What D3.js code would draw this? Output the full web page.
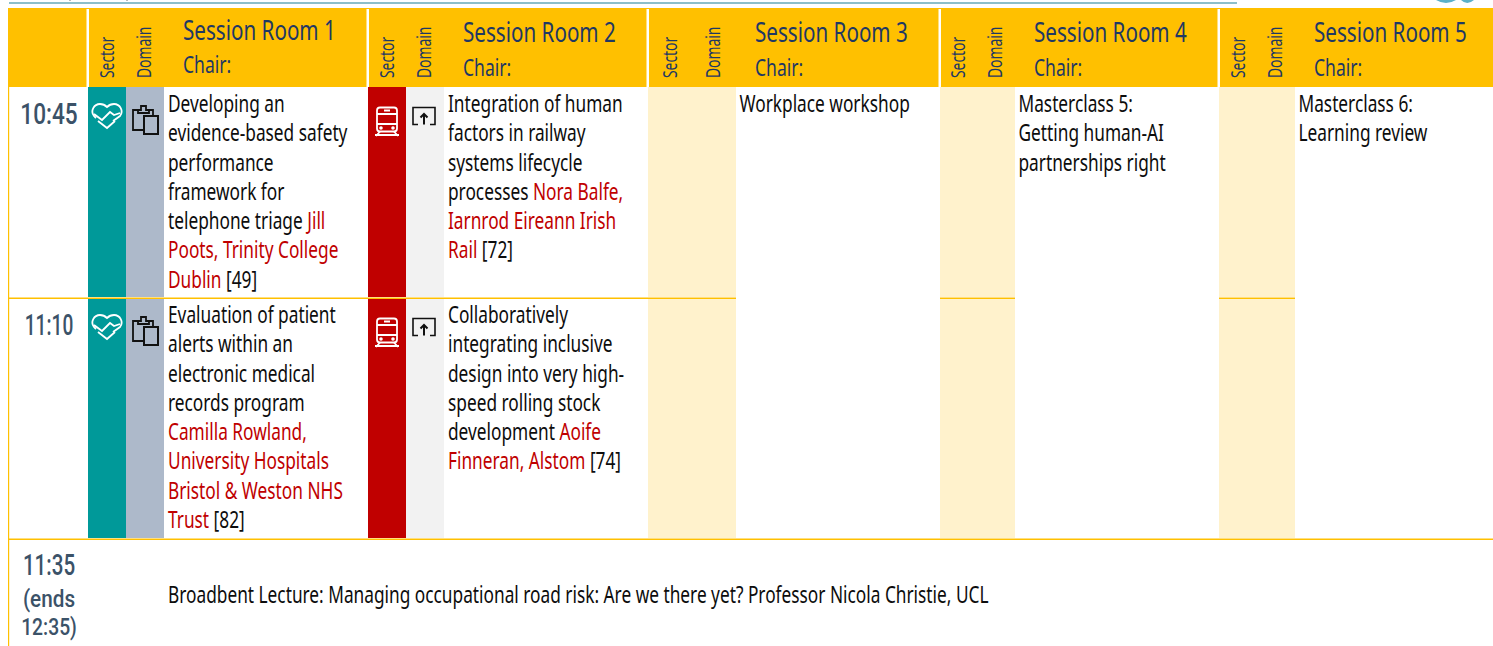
<!DOCTYPE html>
<html>
<head>
<meta charset="utf-8">
<script src="https://cdn.jsdelivr.net/npm/d3@7"></script>
<style>
html, body { margin: 0; padding: 0; background: #fff; overflow: hidden; }
text { font-family: "Noto Sans", sans-serif; white-space: pre; }
.time { font-family: Roboto, sans-serif; font-weight: 500; }
</style>
</head>
<body>
<div id="main-chart"></div>
<script>
var w = 1493, h = 646;

// programme content
var rooms = ["Session Room 1", "Session Room 2", "Session Room 3", "Session Room 4", "Session Room 5"];
var chairLabel = "Chair:";
var colLabels = ["Sector", "Domain"];
var slotLabels = ["10:45", "11:10"];
var lectureSlot = ["11:35", "(ends", "12:35)"];
var lectureText = "Broadbent Lecture: Managing occupational road risk: Are we there yet? Professor Nicola Christie, UCL";

// one entry per talk
var talkRooms = [0, 1, 0, 1];
var talkSlots = [0, 0, 1, 1];
var talkSector = ["health", "rail", "health", "rail"];
var talkDomain = ["clipboard", "upload", "clipboard", "upload"];
// line wrapped text, each line is a list of [string, is author]
var talkLines = [
    [[["Developing an", 0]], [["evidence-based safety", 0]], [["performance", 0]], [["framework for", 0]],
     [["telephone triage ", 0], ["Jill", 1]], [["Poots, Trinity College", 1]], [["Dublin", 1], [" [49]", 0]]],
    [[["Integration of human", 0]], [["factors in railway", 0]], [["systems lifecycle", 0]],
     [["processes ", 0], ["Nora Balfe,", 1]], [["Iarnrod Eireann Irish", 1]], [["Rail", 1], [" [72]", 0]]],
    [[["Evaluation of patient", 0]], [["alerts within an", 0]], [["electronic medical", 0]], [["records program", 0]],
     [["Camilla Rowland,", 1]], [["University Hospitals", 1]], [["Bristol & Weston NHS", 1]], [["Trust", 1], [" [82]", 0]]],
    [[["Collaboratively", 0]], [["integrating inclusive", 0]], [["design into very high-", 0]],
     [["speed rolling stock", 0]], [["development ", 0], ["Aoife", 1]], [["Finneran, Alstom", 1], [" [74]", 0]]]
];
var workshopRooms = [2, 3, 4];
var workshopLines = [["Workplace workshop"], ["Masterclass 5:", "Getting human-AI", "partnerships right"], ["Masterclass 6:", "Learning review"]];

// layout
var roomStart = [88, 368, 648, 940, 1219, 1493];
var roomTagW = [76, 76, 88, 75, 76];
var rowEdge = [87, 298, 539];
var headTop = 8, lineH = 29.25, squeeze = 0.72;
var gold = "#ffc000", navy = "#1f3864", slate = "#3b5268", cream = "#fff2cc", red = "#c00000", ink = "#0d0d0d";
var sectorFill = { health: "#009999", rail: "#c00000" };
var domainFill = { clipboard: "#adb9ca", upload: "#f2f2f2" };

var svg = d3.select("#main-chart").append("svg")
    .attr("width", w).attr("height", h).style("display", "block");

var rowY = d3.scaleOrdinal().domain([0, 1, 2]).range(rowEdge);
var roomX = d3.scaleOrdinal().domain(d3.range(6)).range(roomStart);

// no condensed font here, so squash horizontally
function place(x, y, sx) {
    return "translate(" + x + "," + y + ") scale(" + (sx || squeeze) + ",1)";
}

// cropped remains of the page above
svg.append("rect").attr("x", 9).attr("y", 2).attr("width", 1228).attr("height", 2).attr("fill", "#8dbfca");
svg.append("rect").attr("x", 69).attr("y", 0).attr("width", 2).attr("height", 1).attr("fill", "#bbb");
svg.append("rect").attr("x", 126).attr("y", 0).attr("width", 2).attr("height", 1).attr("fill", "#bbb");
svg.append("path").attr("d", "M1436,0 Q1446,6 1456,0 Z M1461,0 Q1467,6 1474,0 Z").attr("fill", "#5bb1c9");

// header band
svg.append("rect").attr("x", 8).attr("y", headTop).attr("width", w - 8).attr("height", rowEdge[0] - headTop).attr("fill", gold);
svg.selectAll(".head-sep").data(rooms).enter().append("rect")
    .attr("class", "head-sep")
    .attr("x", function(d, i) { return roomX(i) - 1.5; })
    .attr("y", headTop + 1).attr("width", 2.5).attr("height", rowEdge[0] - headTop - 1)
    .attr("fill", "#fff");

var head = svg.selectAll(".room").data(rooms).enter().append("g").attr("class", "room");
head.append("text")
    .attr("transform", function(d, i) { return place(roomX(i) + roomTagW[i] + 19, i == 0 ? 40 : 42, 0.75); })
    .attr("font-size", 27.5).attr("fill", navy)
    .text(function(d) { return d; });
head.append("text")
    .attr("transform", function(d, i) { return place(roomX(i) + roomTagW[i] + 19, i == 0 ? 73 : 76, 0.73); })
    .attr("font-size", 24).attr("fill", navy)
    .text(chairLabel);
colLabels.forEach(function(lab, k) {
    head.append("text")
        .attr("transform", function(d, i) {
            var cw = roomTagW[i] / 2;
            return "translate(" + (roomX(i) + cw * k + cw / 2 + 6.5 - k * 0.5) + ",78) rotate(-90) scale(0.73,1)";
        })
        .attr("font-size", 19).attr("fill", navy)
        .text(lab);
});

// workshop rooms: tinted tag columns over both slots
workshopRooms.forEach(function(r, i) {
    svg.append("rect").attr("x", roomX(r)).attr("y", rowEdge[0])
        .attr("width", roomTagW[r]).attr("height", rowEdge[2] - rowEdge[0]).attr("fill", cream);
    svg.selectAll(".ws" + i).data(workshopLines[i]).enter().append("text")
        .attr("class", "ws" + i)
        .attr("transform", function(d, j) { return place(roomX(r) + roomTagW[r] + 3.5, rowEdge[0] + 25 + j * lineH); })
        .attr("font-size", 24).attr("fill", ink)
        .text(function(d) { return d; });
});

// talk cells
var talk = svg.selectAll(".talk").data(talkLines).enter().append("g").attr("class", "talk");
var tagW = 38;
talk.append("rect")
    .attr("x", function(d, i) { return roomX(talkRooms[i]); })
    .attr("y", function(d, i) { return rowY(talkSlots[i]); })
    .attr("width", tagW)
    .attr("height", function(d, i) { return rowY(talkSlots[i] + 1) - rowY(talkSlots[i]); })
    .attr("fill", function(d, i) { return sectorFill[talkSector[i]]; });
talk.append("rect")
    .attr("x", function(d, i) { return roomX(talkRooms[i]) + tagW; })
    .attr("y", function(d, i) { return rowY(talkSlots[i]); })
    .attr("width", tagW)
    .attr("height", function(d, i) { return rowY(talkSlots[i] + 1) - rowY(talkSlots[i]); })
    .attr("fill", function(d, i) { return domainFill[talkDomain[i]]; });

talk.each(function(lines, i) {
    var g = d3.select(this);
    var x0 = roomX(talkRooms[i]) + 80, y0 = rowY(talkSlots[i]) + 25;
    lines.forEach(function(parts, j) {
        var t = g.append("text").attr("transform", place(x0, y0 + j * lineH)).attr("font-size", 24);
        t.selectAll("tspan").data(parts).enter().append("tspan")
            .attr("fill", function(p) { return p[1] ? red : ink; })
            .text(function(p) { return p[0]; });
    });
    var sy = talkSector[i] == "rail" ? 34 : 28;
    drawSector(g, talkSector[i], roomX(talkRooms[i]) + 19, rowY(talkSlots[i]) + sy);
    drawDomain(g, talkDomain[i], roomX(talkRooms[i]) + (talkDomain[i] == "upload" ? 56 : 57), rowY(talkSlots[i]) + 33);
});

function drawSector(g, kind, cx, cy) {
    var s = g.append("g").attr("transform", "translate(" + cx + "," + cy + ")")
        .attr("fill", "none").attr("stroke", "#fff").attr("stroke-width", 1.8);
    if (kind == "health") {
        s.append("path").attr("d", "M-11,3 L-13,1 C-17,-4 -13,-11 -7,-11 C-4,-11 -2,-10 0,-8 C2,-10 5,-11 7,-11 C13,-11 17,-4 13,1 L6,6");
        s.append("path").attr("d", "M-13,-1 L-5,5 L3,-3 L7,0 L13,-2");
        s.append("path").attr("d", "M-9,6 L0,13 L8,6");
    } else {
        s.append("rect").attr("x", -10).attr("y", -13.5).attr("width", 20).attr("height", 24).attr("rx", 3);
        s.append("path").attr("d", "M-10,-7 H10 M-10,3 H10 M-3,-10.5 H3 M-7,10.5 L-11,15 M7,10.5 L11,15 M-12,14 H12");
        s.append("circle").attr("cx", -6).attr("cy", 7).attr("r", 0.9).attr("fill", "#fff");
        s.append("circle").attr("cx", 6).attr("cy", 7).attr("r", 0.9).attr("fill", "#fff");
    }
}

function drawDomain(g, kind, cx, cy) {
    var s = g.append("g").attr("transform", "translate(" + cx + "," + cy + ")")
        .attr("fill", "none").attr("stroke", "#111").attr("stroke-width", 1.8);
    if (kind == "clipboard") {
        s.append("path").attr("d", "M-2,10 H-12 V-10 H-7 V-7 H4 V-10 H8 V-4 M-7,-10 H-4 V-14 H1 V-10 H4");
        s.append("rect").attr("x", -1).attr("y", -4).attr("width", 14).attr("height", 18).attr("stroke-width", 2);
    } else {
        s.attr("transform", "translate(" + cx + "," + (cy - 4) + ")");
        s.attr("stroke-width", 1.6);
        s.append("path").attr("d", "M-6,8.5 H-11 V-8.5 H11 V8.5 H6");
        s.append("path").attr("d", "M0,8.5 V-2 M-3.5,1.5 L0,-2 L3.5,1.5").attr("stroke-width", 2);
    }
}

// time labels, the 1s in Roboto run wide so each gets its own squeeze
var slotSqueeze = [0.78, 0.66];
svg.selectAll(".slot").data(slotLabels).enter().append("text")
    .attr("class", "slot time")
    .attr("transform", function(d, i) { return place(49, rowY(i) + 37, slotSqueeze[i]); })
    .attr("text-anchor", "middle").attr("font-size", 29).attr("fill", slate)
    .text(function(d) { return d; });

var lectureBase = [575, 607, 635], lectureSqueeze = [0.71, 0.9, 0.84];
svg.selectAll(".lecture-time").data(lectureSlot).enter().append("text")
    .attr("class", "lecture-time time")
    .attr("transform", function(d, i) { return place(49, lectureBase[i], lectureSqueeze[i]); })
    .attr("text-anchor", "middle").attr("fill", slate)
    .attr("font-size", function(d, i) { return i == 0 ? 29 : 23; })
    .text(function(d) { return d; });

svg.append("text").attr("transform", place(168, 603)).attr("font-size", 24).attr("fill", ink).text(lectureText);

// gold rules, a pale row above the solid one
var rules = [[8, 736, rowEdge[1]], [940, 1015, rowEdge[1]], [1219, 1295, rowEdge[1]], [8, w, rowEdge[2]]];
svg.selectAll(".rule-pale").data(rules).enter().append("rect")
    .attr("class", "rule-pale")
    .attr("x", function(d) { return d[0]; }).attr("width", function(d) { return d[1] - d[0]; })
    .attr("y", function(d) { return d[2] - 1; }).attr("height", 1)
    .attr("fill", "#ffdf80");
svg.selectAll(".rule").data(rules).enter().append("rect")
    .attr("class", "rule")
    .attr("x", function(d) { return d[0]; }).attr("width", function(d) { return d[1] - d[0]; })
    .attr("y", function(d) { return d[2]; }).attr("height", 1)
    .attr("fill", gold);
svg.append("rect").attr("x", 8).attr("y", rowEdge[0]).attr("width", 1.2).attr("height", h - rowEdge[0]).attr("fill", gold);
</script>
</body>
</html>
